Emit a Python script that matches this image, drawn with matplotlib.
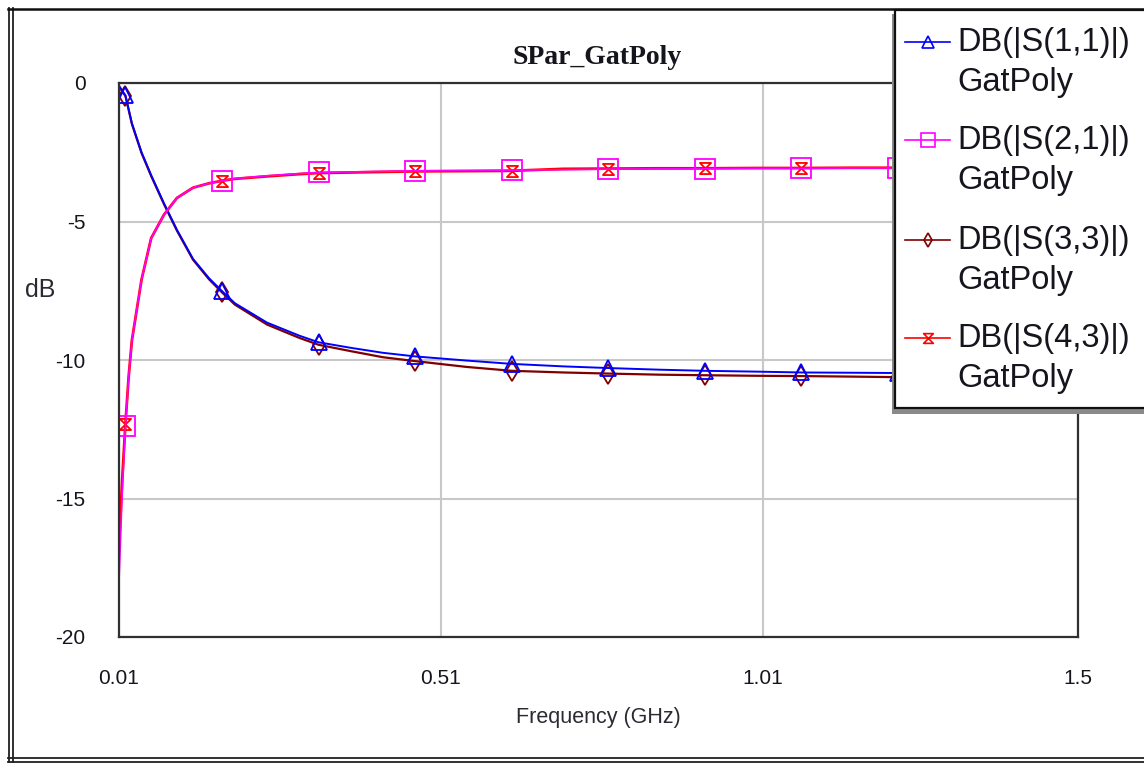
import matplotlib
matplotlib.use("Agg")
import matplotlib.pyplot as plt
from matplotlib.path import Path
from matplotlib.lines import Line2D
from matplotlib.patches import Rectangle

# sweep points (GHz) and the four traces in dB
freq = [0.01, 0.015, 0.02, 0.025, 0.03, 0.045, 0.06, 0.08, 0.10, 0.125, 0.15, 0.17,
        0.19, 0.24, 0.29, 0.32, 0.37, 0.42, 0.47, 0.55, 0.62, 0.70, 0.77, 0.85,
        0.92, 1.00, 1.07, 1.15, 1.22, 1.30, 1.37, 1.45, 1.50]

s11 = [-0.10, -0.28, -0.45, -0.95, -1.45, -2.50, -3.33, -4.35, -5.30, -6.35, -7.05, -7.51,
       -7.95, -8.65, -9.12, -9.36, -9.56, -9.74, -9.87, -10.02, -10.14, -10.23, -10.29, -10.35,
       -10.39, -10.42, -10.45, -10.46, -10.47, -10.48, -10.49, -10.50, -10.50]

s21 = [-18.0, -14.8, -12.4, -10.6, -9.3, -7.1, -5.6, -4.75, -4.15, -3.78, -3.62, -3.53,
       -3.45, -3.35, -3.27, -3.23, -3.21, -3.19, -3.17, -3.16, -3.15, -3.13, -3.11, -3.10,
       -3.09, -3.08, -3.08, -3.07, -3.07, -3.07, -3.06, -3.06, -3.06]

s33 = [-0.12, -0.30, -0.47, -0.97, -1.48, -2.53, -3.36, -4.38, -5.33, -6.38, -7.09, -7.56,
       -8.00, -8.72, -9.20, -9.45, -9.68, -9.90, -10.04, -10.25, -10.39, -10.45, -10.49, -10.53,
       -10.55, -10.57, -10.58, -10.60, -10.62, -10.63, -10.64, -10.65, -10.65]

s43 = [-16.7, -14.3, -12.3, -10.6, -9.3, -7.1, -5.6, -4.75, -4.15, -3.78, -3.62, -3.53,
       -3.46, -3.37, -3.29, -3.25, -3.23, -3.21, -3.19, -3.18, -3.17, -3.10, -3.09, -3.08,
       -3.08, -3.07, -3.07, -3.06, -3.06, -3.06, -3.05, -3.05, -3.05]

marker_freqs = [0.02, 0.17, 0.32, 0.47, 0.62, 0.77, 0.92, 1.07, 1.22, 1.37]
xtick_vals = [0.01, 0.51, 1.01, 1.5]
xtick_labels = ["0.01", "0.51", "1.01", "1.5"]
ytick_vals = [0, -5, -10, -15, -20]
legend_labels = ["DB(|S(1,1)|)", "DB(|S(2,1)|)", "DB(|S(3,3)|)", "DB(|S(4,3)|)"]
source_name = "GatPoly"

W, H = 1144, 765


def fx(x):
    return x / W


def fy(y):
    return 1 - y / H


hourglass = Path([(-1, 1), (1, 1), (-1, -1), (1, -1), (-1, 1)],
                 [Path.MOVETO, Path.LINETO, Path.LINETO, Path.LINETO, Path.CLOSEPOLY])

sans = "Liberation Sans"
ink = "#15151e"

fig = plt.figure(figsize=(W / 100, H / 100), dpi=100)
ax = fig.add_axes([fx(119), fy(637), fx(1078 - 119), (637 - 83) / H])

marks = [freq.index(f) for f in marker_freqs]

# (data, color, marker, marker size, line width) in drawing order
s11_style = (s11, "#0000ff", "^", 12, 1.4)
s21_style = (s21, "#ff00ff", "s", 14, 1.2)
s33_style = (s33, "#800000", "d", 10, 1.6)
s43_style = (s43, "#ff0000", hourglass, 8, 2.0)
for vals, col, mk, ms, lw in [s33_style, s11_style, s43_style, s21_style]:
    ax.plot(freq, vals, color=col, lw=lw, marker=mk, ms=ms, mfc="none",
            mec=col, mew=1.3, markevery=marks)

ax.set_xlim(0.01, 1.5)
ax.set_ylim(-20, 0)
ax.set_xticks(xtick_vals)
ax.set_xticklabels(xtick_labels)
ax.set_yticks(ytick_vals)
ax.set_yticklabels([str(v) for v in ytick_vals])
ax.tick_params(length=0, labelsize=15, labelcolor=ink)
ax.tick_params(axis="x", pad=23)
ax.tick_params(axis="y", pad=24)
for lab in ax.get_xticklabels() + ax.get_yticklabels():
    lab.set_fontfamily(sans)
ax.grid(True, color="#c8c8c8", lw=1.5)
ax.set_axisbelow(True)
for sp in ax.spines.values():
    sp.set_color("#303030")
    sp.set_linewidth(1.6)

fig.text(fx(597), fy(58), "SPar_GatPoly", family="Liberation Serif", weight="bold",
         fontsize=20, ha="center", va="center", color=ink)
fig.text(fx(40), fy(290), "dB", family=sans, fontsize=18, ha="center", va="center", color="#2a2a32")
fig.text(fx(598), fy(717), "Frequency (GHz)", family=sans, fontsize=15.5, ha="center",
         va="center", color="#2a2a32")

# outer frame (double rule)
for x in (9, 12.5):
    fig.add_artist(Line2D([fx(x), fx(x)], [fy(8), fy(762)], color="#202020", lw=1.3))
for y in (757.5, 761.5):
    fig.add_artist(Line2D([fx(8), fx(W)], [fy(y), fy(y)], color="#202020", lw=1.3))
fig.add_artist(Line2D([fx(8), fx(W)], [fy(9), fy(9)], color="#101010", lw=1.8))

# legend panel with shadow
fig.add_artist(Rectangle((fx(892), fy(414)), fx(260), (414 - 14) / H,
                         facecolor="#8a8a8a", edgecolor="none", zorder=4))
fig.add_artist(Rectangle((fx(895), fy(408)), fx(260), (408 - 10) / H,
                         facecolor="white", edgecolor="#101010", lw=1.6, zorder=5))

legend_y = [42, 140, 240, 338]
legend_styles = [s11_style, s21_style, s33_style, s43_style]
legend_ms = [8, 10, 7, 7]
for (vals, col, mk, ms, lw), y, lab, lms in zip(legend_styles, legend_y, legend_labels, legend_ms):
    fig.add_artist(Line2D([fx(905), fx(950)], [fy(y), fy(y)], color=col, lw=1.2, zorder=6))
    fig.add_artist(Line2D([fx(928)], [fy(y)], color=col, marker=mk, ms=lms, mfc="none",
                          mec=col, mew=1.2, zorder=6))
    fig.text(fx(957), fy(y), lab, family=sans, fontsize=23.5, ha="left", va="center",
             color=ink, zorder=7)
    fig.text(fx(957), fy(y + 40), source_name, family=sans, fontsize=23.5, ha="left",
             va="center", color=ink, zorder=7)

fig.savefig("out.png", dpi=100, facecolor="white")
